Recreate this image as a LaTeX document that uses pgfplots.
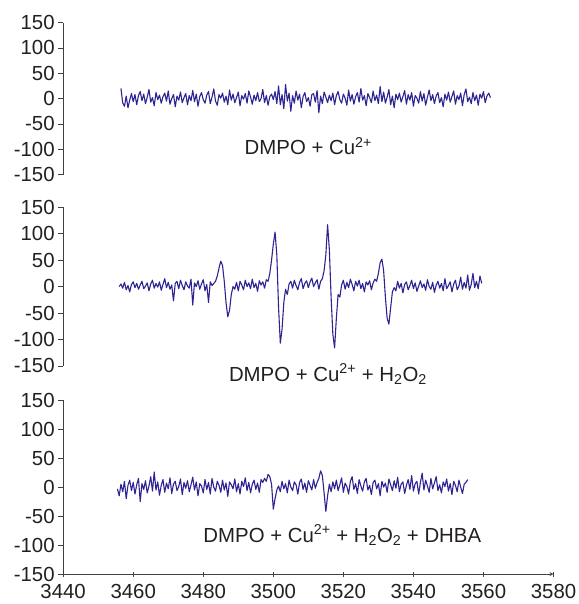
\documentclass[border=0pt]{standalone}
\usepackage{pgfplots}
\pgfplotsset{compat=1.18}
\usepackage{fontspec}
\setmainfont{Liberation Sans}
\definecolor{trace}{RGB}{45,35,145}
\definecolor{txt}{RGB}{35,31,32}
\newcommand{\bigf}{\fontsize{20.5}{24}\selectfont}
\pgfplotsset{
  panel/.style={
    scale only axis, width=491.4bp, xmin=3440, xmax=3580, ymin=-150, ymax=150,
    axis y line=left, axis line style={-, black!75, line width=0.8bp},
    tick align=outside, major tick length=5bp,
    tick style={black!75, line width=0.8bp},
    ytick={-150,-100,...,150},
    ticklabel style={font=\bigf, text=txt},
    /pgf/number format/.cd, 1000 sep={}, assume math mode=true, /pgfplots/.cd,
    clip=false, anchor=south west,
  },
  tr/.style={trace, line width=1.1bp, mark=none, line join=round},
}
\begin{document}
\begin{tikzpicture}
\useasboundingbox (-63.3bp,-30bp) rectangle (516.7bp,575.3bp);
% Panel 1
\begin{axis}[panel, at={(0bp,400.3bp)}, height=152.3bp, axis x line=none, xtick=\empty]
\addplot[tr] coordinates {
(3456.5,20)(3457,-8)(3457.5,-15)(3458,5)(3458.5,-18)(3459,-3)(3459.5,10)(3460,-6)(3460.5,8)(3461,-12)
(3461.5,6)(3462,14)(3462.5,-4)(3463,9)(3463.5,-10)(3464,3)(3464.5,18)(3465,-7)(3465.5,2)(3466,-14)
(3466.5,12)(3467,-2)(3467.5,7)(3468,-9)(3468.5,4)(3469,11)(3469.5,-5)(3470,15)(3470.5,-11)(3471,0)
(3471.5,8)(3472,-16)(3472.5,5)(3473,-3)(3473.5,13)(3474,-8)(3474.5,2)(3475,10)(3475.5,-12)(3476,6)
(3476.5,-4)(3477,16)(3477.5,-6)(3478,9)(3478.5,-15)(3479,4)(3479.5,12)(3480,-2)(3480.5,-9)(3481,7)
(3481.5,14)(3482,-10)(3482.5,3)(3483,19)(3483.5,-5)(3484,-13)(3484.5,8)(3485,1)(3485.5,11)(3486,-7)
(3486.5,5)(3487,-12)(3487.5,17)(3488,-3)(3488.5,9)(3489,-8)(3489.5,2)(3490,13)(3490.5,-14)(3491,6)
(3491.5,-1)(3492,10)(3492.5,-9)(3493,15)(3493.5,3)(3494,-11)(3494.5,7)(3495,-4)(3495.5,12)(3496,-6)
(3496.5,0)(3497,18)(3497.5,-8)(3498,6)(3498.5,-13)(3499,4)(3499.5,9)(3500,-2)(3500.5,14)(3501,-10)
(3501.5,25)(3502,-12)(3502.5,8)(3503,-20)(3503.5,28)(3504,-5)(3504.5,11)(3505,-25)(3505.5,6)(3506,-9)
(3506.5,15)(3507,-3)(3507.5,9)(3508,-18)(3508.5,4)(3509,12)(3509.5,-6)(3510,2)(3510.5,-15)(3511,8)
(3511.5,10)(3512,-7)(3512.5,16)(3513,-28)(3513.5,5)(3514,-10)(3514.5,13)(3515,3)(3515.5,-8)(3516,7)
(3516.5,-4)(3517,11)(3517.5,-12)(3518,6)(3518.5,14)(3519,-2)(3519.5,-9)(3520,9)(3520.5,1)(3521,-13)
(3521.5,17)(3522,-5)(3522.5,8)(3523,-11)(3523.5,4)(3524,12)(3524.5,-7)(3525,20)(3525.5,-3)(3526,6)
(3526.5,-14)(3527,10)(3527.5,2)(3528,-8)(3528.5,15)(3529,-4)(3529.5,7)(3530,-10)(3530.5,24)(3531,-6)
(3531.5,13)(3532,-9)(3532.5,3)(3533,18)(3533.5,-12)(3534,5)(3534.5,-18)(3535,9)(3535.5,-2)(3536,11)
(3536.5,-7)(3537,4)(3537.5,16)(3538,-11)(3538.5,8)(3539,-3)(3539.5,12)(3540,-15)(3540.5,6)(3541,1)
(3541.5,-9)(3542,14)(3542.5,-5)(3543,10)(3543.5,-13)(3544,3)(3544.5,17)(3545,-4)(3545.5,8)(3546,-10)
(3546.5,5)(3547,12)(3547.5,-8)(3548,2)(3548.5,-16)(3549,9)(3549.5,-3)(3550,13)(3550.5,-7)(3551,4)
(3551.5,15)(3552,-11)(3552.5,6)(3553,-2)(3553.5,11)(3554,-14)(3554.5,8)(3555,19)(3555.5,-6)(3556,3)
(3556.5,-10)(3557,12)(3557.5,-4)(3558,7)(3558.5,-13)(3559,9)(3559.5,1)(3560,14)(3560.5,-8)(3561,5)
(3561.5,11)(3562,2)
};
\node[anchor=base, font=\bigf, text=txt] at (axis cs:3510,-110.6) {DMPO + Cu\textsuperscript{2+}};
\end{axis}
% Panel 2
\begin{axis}[panel, at={(0bp,208.6bp)}, height=159bp, axis x line=none, xtick=\empty]
\addplot[tr] coordinates {
(3456,0)(3456.5,5)(3457,-3)(3457.5,8)(3458,-6)(3458.5,2)(3459,-10)(3459.5,4)(3460,9)(3460.5,-2)
(3461,6)(3461.5,-5)(3462,3)(3462.5,10)(3463,-4)(3463.5,1)(3464,7)(3464.5,-8)(3465,5)(3465.5,12)
(3466,-3)(3466.5,6)(3467,-1)(3467.5,9)(3468,-7)(3468.5,4)(3469,15)(3469.5,-2)(3470,8)(3470.5,-5)
(3471,3)(3471.5,-27)(3472,6)(3472.5,10)(3473,-4)(3473.5,12)(3474,2)(3474.5,-6)(3475,9)(3475.5,1)
(3476,-3)(3476.5,14)(3477,-35)(3477.5,7)(3478,0)(3478.5,11)(3479,-5)(3479.5,5)(3480,13)(3480.5,-8)
(3481,4)(3481.5,-30)(3482,9)(3482.5,2)(3483,6)(3483.5,10)(3484,20)(3484.5,35)(3485,48)(3485.5,40)
(3486,10)(3486.5,-30)(3487,-57)(3487.5,-45)(3488,-15)(3488.5,0)(3489,-5)(3489.5,8)(3490,-8)(3490.5,10)
(3491,3)(3491.5,-6)(3492,12)(3492.5,0)(3493,7)(3493.5,-4)(3494,14)(3494.5,-2)(3495,6)(3495.5,-9)
(3496,11)(3496.5,3)(3497,9)(3497.5,-3)(3498,13)(3498.5,10)(3499,25)(3499.5,50)(3500,80)(3500.5,103)
(3501,60)(3501.5,-40)(3502,-107)(3502.5,-80)(3503,-30)(3503.5,-5)(3504,-15)(3504.5,5)(3505,10)(3505.5,-3)
(3506,12)(3506.5,2)(3507,-6)(3507.5,8)(3508,15)(3508.5,-4)(3509,6)(3509.5,11)(3510,-2)(3510.5,9)
(3511,16)(3511.5,0)(3512,7)(3512.5,13)(3513,-5)(3513.5,10)(3514,15)(3514.5,30)(3515,60)(3515.5,117)
(3516,70)(3516.5,-20)(3517,-90)(3517.5,-116)(3518,-60)(3518.5,-15)(3519,-20)(3519.5,3)(3520,12)(3520.5,-5)
(3521,8)(3521.5,-2)(3522,14)(3522.5,4)(3523,-8)(3523.5,10)(3524,1)(3524.5,12)(3525,-4)(3525.5,6)
(3526,-10)(3526.5,9)(3527,3)(3527.5,11)(3528,-6)(3528.5,7)(3529,14)(3529.5,10)(3530,25)(3530.5,45)
(3531,52)(3531.5,30)(3532,-20)(3532.5,-60)(3533,-71)(3533.5,-40)(3534,-10)(3534.5,-2)(3535,-8)(3535.5,10)
(3536,-3)(3536.5,6)(3537,-12)(3537.5,4)(3538,9)(3538.5,-6)(3539,2)(3539.5,12)(3540,-4)(3540.5,7)
(3541,-9)(3541.5,1)(3542,11)(3542.5,-2)(3543,5)(3543.5,-7)(3544,13)(3544.5,0)(3545,-5)(3545.5,8)
(3546,-11)(3546.5,3)(3547,10)(3547.5,-3)(3548,6)(3548.5,-8)(3549,15)(3549.5,-4)(3550,2)(3550.5,9)
(3551,-10)(3551.5,5)(3552,12)(3552.5,-6)(3553,1)(3553.5,18)(3554,-5)(3554.5,8)(3555,-3)(3555.5,22)
(3556,-7)(3556.5,4)(3557,25)(3557.5,-2)(3558,10)(3558.5,-4)(3559,20)(3559.5,6)
};
\node[anchor=base, font=\bigf, text=txt] at (axis cs:3515.6,-179.4) {DMPO + Cu\textsuperscript{2+} + H\textsubscript{2}O\textsubscript{2}};
\end{axis}
% Panel 3
\begin{axis}[panel, at={(0bp,0bp)}, height=174.3bp, axis x line=bottom, xtick={3440,3460,...,3580},
  xticklabel style={yshift=-4bp}]
\addplot[tr] coordinates {
(3455.5,-3)(3456,-15)(3456.5,5)(3457,-8)(3457.5,10)(3458,-20)(3458.5,3)(3459,12)(3459.5,-6)(3460,8)
(3460.5,-12)(3461,4)(3461.5,15)(3462,-25)(3462.5,6)(3463,-4)(3463.5,11)(3464,-10)(3464.5,2)(3465,18)
(3465.5,-7)(3466,26)(3466.5,-5)(3467,9)(3467.5,-14)(3468,3)(3468.5,13)(3469,-9)(3469.5,7)(3470,-3)
(3470.5,16)(3471,-11)(3471.5,5)(3472,10)(3472.5,-6)(3473,1)(3473.5,14)(3474,-13)(3474.5,8)(3475,-2)
(3475.5,11)(3476,-8)(3476.5,4)(3477,17)(3477.5,-5)(3478,9)(3478.5,-15)(3479,6)(3479.5,2)(3480,-10)
(3480.5,13)(3481,-4)(3481.5,8)(3482,-12)(3482.5,15)(3483,0)(3483.5,-7)(3484,10)(3484.5,3)(3485,-9)
(3485.5,12)(3486,-5)(3486.5,7)(3487,-16)(3487.5,9)(3488,4)(3488.5,-3)(3489,14)(3489.5,-8)(3490,6)
(3490.5,-12)(3491,10)(3491.5,1)(3492,16)(3492.5,-6)(3493,8)(3493.5,-10)(3494,5)(3494.5,12)(3495,-4)
(3495.5,7)(3496,-9)(3496.5,13)(3497,8)(3497.5,15)(3498,10)(3498.5,22)(3499,18)(3499.5,5)(3500,-38)
(3500.5,-20)(3501,-5)(3501.5,2)(3502,-8)(3502.5,10)(3503,-3)(3503.5,6)(3504,-10)(3504.5,12)(3505,0)
(3505.5,-6)(3506,9)(3506.5,4)(3507,-12)(3507.5,8)(3508,14)(3508.5,-4)(3509,7)(3509.5,-9)(3510,11)
(3510.5,3)(3511,-5)(3511.5,13)(3512,-2)(3512.5,8)(3513,15)(3513.5,28)(3514,20)(3514.5,-10)(3515,-42)
(3515.5,-15)(3516,5)(3516.5,-8)(3517,9)(3517.5,-3)(3518,12)(3518.5,-6)(3519,4)(3519.5,16)(3520,-9)
(3520.5,7)(3521,1)(3521.5,-12)(3522,10)(3522.5,18)(3523,-4)(3523.5,6)(3524,-11)(3524.5,13)(3525,2)
(3525.5,-7)(3526,9)(3526.5,15)(3527,-5)(3527.5,3)(3528,-13)(3528.5,8)(3529,12)(3529.5,-3)(3530,6)
(3530.5,-15)(3531,10)(3531.5,0)(3532,7)(3532.5,-9)(3533,14)(3533.5,4)(3534,-6)(3534.5,11)(3535,-2)
(3535.5,17)(3536,-8)(3536.5,5)(3537,9)(3537.5,-11)(3538,3)(3538.5,13)(3539,-4)(3539.5,20)(3540,-7)
(3540.5,6)(3541,10)(3541.5,-12)(3542,8)(3542.5,24)(3543,-5)(3543.5,12)(3544,2)(3544.5,-9)(3545,15)
(3545.5,-3)(3546,7)(3546.5,18)(3547,-6)(3547.5,4)(3548,-10)(3548.5,9)(3549,1)(3549.5,14)(3550,-7)
(3550.5,6)(3551,-13)(3551.5,10)(3552,3)(3552.5,-8)(3553,12)(3553.5,0)(3554,-11)(3554.5,5)(3555,8)
(3555.5,13)
};
\node[anchor=base, font=\bigf, text=txt] at (axis cs:3519.7,-95.2) {DMPO + Cu\textsuperscript{2+} + H\textsubscript{2}O\textsubscript{2} + DHBA};
\end{axis}
\end{tikzpicture}
\end{document}
